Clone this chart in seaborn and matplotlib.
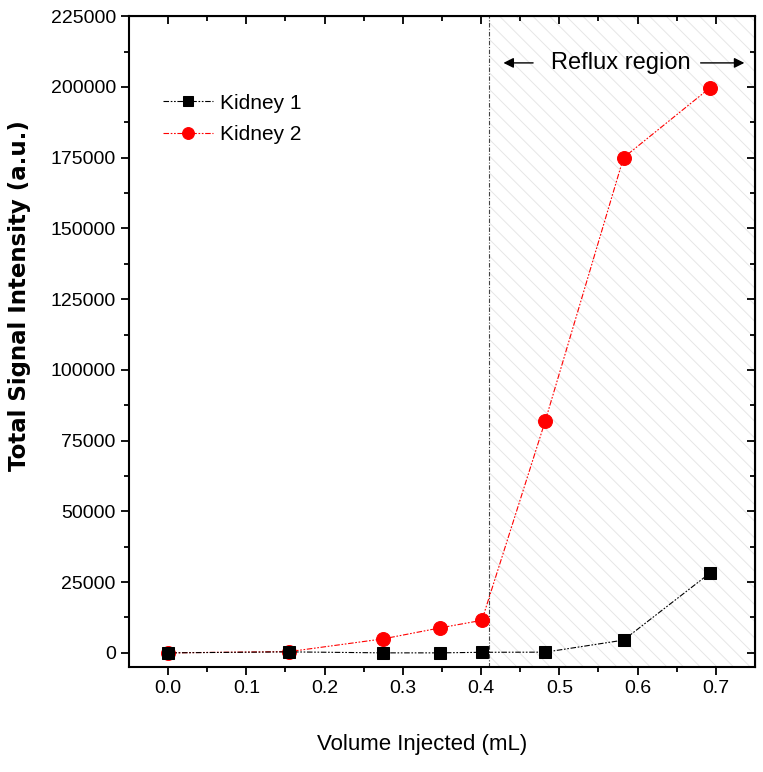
import numpy as np
import pandas as pd
import matplotlib.pyplot as plt
import seaborn as sns

# volumes (mL) and signal readings
volume = [0.0, 0.155, 0.275, 0.348, 0.401, 0.482, 0.582, 0.693]
kidney1 = [0, 350, 0, 0, 200, 250, 4500, 28300]
kidney2 = [0, 450, 4950, 8850, 11500, 82000, 175000, 199800]
reflux_start = 0.41

sns.set_style("ticks")
plt.rcParams['font.family'] = ['Liberation Sans', 'DejaVu Sans']
plt.rcParams['text.color'] = 'black'
plt.rcParams['axes.labelcolor'] = 'black'
plt.rcParams['xtick.color'] = 'black'
plt.rcParams['ytick.color'] = 'black'
plt.rcParams['axes.edgecolor'] = 'black'
plt.rcParams['hatch.linewidth'] = 0.7

fig = plt.figure(figsize=(7.63, 7.72), dpi=100)
ax = fig.add_axes([0.169, 0.136, 0.8205, 0.843])

dash = (0, (5, 1.5, 1.5, 1.5, 1.5, 1.5))
sns.lineplot(x=volume, y=kidney1, ax=ax, color='black', marker='s', markersize=9,
             linestyle=dash, linewidth=0.8, markeredgecolor='black',
             label='Kidney 1', zorder=4)
sns.lineplot(x=volume, y=kidney2, ax=ax, color='#ff0000', marker='o', markersize=10,
             linestyle=dash, linewidth=0.8, markeredgecolor='#ff0000',
             label='Kidney 2', zorder=3)

# reflux region shading
ax.axvspan(reflux_start, 0.75, facecolor='none', edgecolor='#e6e6e6', hatch='\\\\', lw=0, zorder=0)
ax.axvline(reflux_start, color='#444444', lw=0.8, linestyle=(0, (4, 1.5, 1, 1.5)), zorder=1)

ax.text(0.578, 208500, 'Reflux region', ha='center', va='center', fontsize=17)
ax.annotate('', xy=(0.425, 208500), xytext=(0.47, 208500),
            arrowprops=dict(arrowstyle='-|>', color='black', lw=1, mutation_scale=15))
ax.annotate('', xy=(0.74, 208500), xytext=(0.677, 208500),
            arrowprops=dict(arrowstyle='-|>', color='black', lw=1, mutation_scale=15))

ax.set_xlim(-0.05, 0.75)
ax.set_ylim(-5000, 225000)
ax.set_xticks(np.arange(0, 0.71, 0.1))
ax.set_xticks(np.arange(0.05, 0.75, 0.1), minor=True)
ax.set_yticks(np.arange(0, 225001, 25000))
ax.set_yticks(np.arange(12500, 225000, 25000), minor=True)
ax.xaxis.set_major_formatter(plt.FuncFormatter(lambda v, p: f'{v:.1f}'))
ax.yaxis.set_major_formatter(plt.FuncFormatter(lambda v, p: f'{int(v)}'))

for s in ax.spines.values():
    s.set_linewidth(1.5)
    s.set_visible(True)
ax.tick_params(which='major', direction='out', length=6, width=1.3, labelsize=14)
ax.tick_params(which='minor', direction='out', length=3.5, width=1.3)

top = ax.secondary_xaxis('top')
top.set_xticks(np.arange(0, 0.71, 0.1))
top.set_xticks(np.arange(0.05, 0.75, 0.1), minor=True)
top.tick_params(which='major', direction='in', length=6, width=1.3, labeltop=False)
top.tick_params(which='minor', direction='in', length=3.5, width=1.3)
right = ax.secondary_yaxis('right')
right.set_yticks(np.arange(0, 225001, 25000))
right.set_yticks(np.arange(12500, 225000, 25000), minor=True)
right.tick_params(which='major', direction='in', length=6, width=1.3, labelright=False)
right.tick_params(which='minor', direction='in', length=3.5, width=1.3)

ax.set_xlabel('Volume Injected (mL)', fontsize=16)
ax.set_ylabel('Total Signal Intensity (a.u.)', fontsize=16.5, fontweight='bold',
              family=['DejaVu Sans'])
ax.xaxis.set_label_coords(0.468, -0.103)
ax.yaxis.set_label_coords(-0.157, 0.57)

ax.legend(loc='upper left', bbox_to_anchor=(0.025, 0.91), frameon=False, fontsize=15,
          handlelength=2.4, handletextpad=0.3, labelspacing=0.6, markerscale=0.85)

fig.savefig('out.png', dpi=100)
